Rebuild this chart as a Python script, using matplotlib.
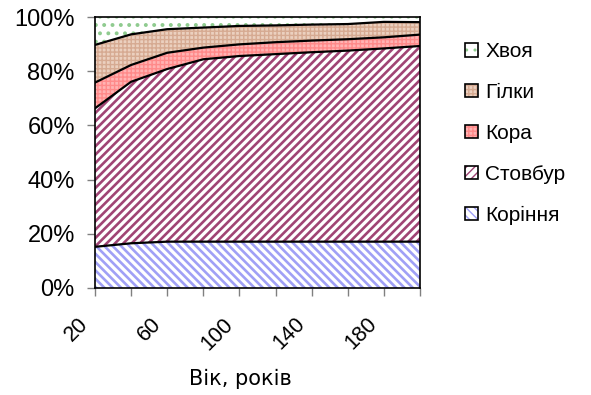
import matplotlib
matplotlib.use("Agg")
import matplotlib.pyplot as plt
import matplotlib.transforms as mtransforms
import numpy as np
from matplotlib.patches import Patch

# Age of stand, years
age = [20, 40, 60, 80, 100, 120, 140, 160, 180, 200]

# Share of each tree fraction in total phytomass, %
roots = [15.2, 16.5, 17.1, 17.1, 17.1, 17.1, 17.1, 17.1, 17.1, 17.1]
stem = [51.1, 59.6, 63.7, 67.3, 68.5, 69.2, 69.9, 70.5, 71.3, 72.2]
bark = [9.5, 6.2, 6.0, 4.3, 4.3, 4.4, 4.3, 4.2, 4.1, 4.2]
branches = [13.9, 11.3, 8.7, 7.4, 6.8, 6.2, 5.9, 5.6, 5.7, 4.6]
needles = [10.3, 6.4, 4.5, 3.9, 3.3, 3.1, 2.8, 2.6, 1.8, 1.9]

labels = ["Коріння", "Стовбур", "Кора", "Гілки", "Хвоя"]
age_ticklabels = ["20", "", "60", "", "100", "", "140", "", "180", ""]

styles = [
    # facecolor, hatch, hatch color, hatch linewidth
    ("white", "\\\\\\\\", "#A0A0F6", 1.9),
    ("white", "////", "#A04474", 1.9),
    ("#FFB3B3", "++++", "#FF8A8A", 1.0),
    ("#EBD0BF", "++++", "#D6AA92", 1.0),
    ("white", "..", "#8FCB8F", 1.6),
]

plt.rcParams["font.family"] = ["Liberation Sans", "DejaVu Sans"]

fig = plt.figure(figsize=(5.91, 3.95), dpi=100)
ax = fig.add_axes([95 / 591, 1 - 288 / 395, 325 / 591, 271 / 395])

series = np.array([roots, stem, bark, branches, needles], dtype=float)
shares = series / series.sum(axis=0) * 100
tops = np.cumsum(shares, axis=0)
bottoms = np.vstack([np.zeros(len(age)), tops[:-1]])

handles = []
for i, (fc, hatch, hc, hlw) in enumerate(styles):
    with plt.rc_context({"hatch.linewidth": hlw}):
        ax.fill_between(age, bottoms[i], tops[i], facecolor=fc, hatch=hatch,
                        edgecolor=hc, linewidth=0, zorder=1)
        h_fill = Patch(facecolor=fc, hatch=hatch, edgecolor=hc, linewidth=0)
    h_box = Patch(facecolor="none", edgecolor="black", linewidth=1.2)
    handles.append((h_fill, h_box))
    if i < len(styles) - 1:
        ax.plot(age, tops[i], color="black", linewidth=1.6, zorder=3)

ax.set_xlim(age[0], age[-1])
ax.set_ylim(0, 100)
ax.set_yticks([0, 20, 40, 60, 80, 100])
ax.set_yticklabels([f"{v}%" for v in [0, 20, 40, 60, 80, 100]], fontsize=17)
ax.set_xticks(age)
ax.set_xticklabels(age_ticklabels, fontsize=15.5, rotation=45, ha="right",
                   va="top", rotation_mode="anchor")
ax.tick_params(axis="x", length=6, width=1, color="#808080", pad=12.5)
ax.tick_params(axis="y", length=6, width=1, color="#808080", pad=8.5)
shift = mtransforms.ScaledTranslation(-17 / 100, 0, fig.dpi_scale_trans)
for lbl in ax.get_xticklabels():
    lbl.set_transform(lbl.get_transform() + shift)
for s in ax.spines.values():
    s.set_color("black")
    s.set_linewidth(1.2)
    s.set_zorder(4)

ax.set_xlabel("Вік, років", fontsize=15, family="DejaVu Sans")
ax.xaxis.set_label_coords(0.446, -0.30)

fig.legend(handles[::-1], labels[::-1], loc="upper left",
           bbox_to_anchor=(457 / 591, 1 - 34 / 395), frameon=False,
           fontsize=15, handlelength=0.6, handleheight=0.6,
           handletextpad=0.35, labelspacing=1.05, borderaxespad=0)

fig.savefig("out.png", dpi=100)
